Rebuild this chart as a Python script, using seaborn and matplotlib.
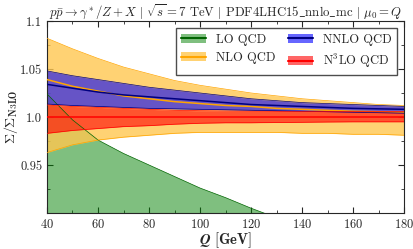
import matplotlib
matplotlib.use("Agg")
import matplotlib.pyplot as plt
from matplotlib.patches import Patch
from matplotlib.lines import Line2D
import numpy as np
import pandas as pd
import seaborn as sns

# ratio to N3LO central
q = [40, 50, 60, 70, 80, 90, 100, 110, 120, 130, 140, 150, 160, 170, 180]

lo_up = [1.024, 0.997, 0.976, 0.962, 0.950, 0.938, 0.926, 0.916, 0.905, 0.895, 0.886, 0.877, 0.868, 0.860, 0.852]
lo_mid = [0.870, 0.860, 0.850, 0.842, 0.835, 0.828, 0.822, 0.817, 0.812, 0.807, 0.803, 0.799, 0.795, 0.791, 0.788]
lo_dn = [0.760, 0.750, 0.740, 0.732, 0.725, 0.718, 0.712, 0.707, 0.702, 0.697, 0.693, 0.689, 0.685, 0.681, 0.678]

nlo_up = [1.082, 1.071, 1.061, 1.052, 1.045, 1.038, 1.033, 1.029, 1.025, 1.022, 1.019, 1.017, 1.015, 1.013, 1.012]
nlo_mid = [1.039, 1.032, 1.027, 1.022, 1.019, 1.016, 1.014, 1.012, 1.011, 1.009, 1.008, 1.007, 1.006, 1.0055, 1.005]
nlo_dn = [0.963, 0.971, 0.976, 0.979, 0.981, 0.983, 0.984, 0.984, 0.984, 0.984, 0.983, 0.983, 0.982, 0.982, 0.981]

nnlo_up = [1.048, 1.043, 1.039, 1.035, 1.031, 1.028, 1.025, 1.022, 1.019, 1.017, 1.015, 1.014, 1.013, 1.012, 1.011]
nnlo_mid = [1.034, 1.030, 1.026, 1.023, 1.021, 1.019, 1.017, 1.015, 1.013, 1.012, 1.011, 1.010, 1.009, 1.0085, 1.008]
nnlo_dn = [1.0135, 1.012, 1.011, 1.010, 1.009, 1.0085, 1.008, 1.0075, 1.007, 1.0065, 1.006, 1.0055, 1.005, 1.0045, 1.004]

n3lo_up = [1.0125, 1.011, 1.010, 1.009, 1.008, 1.007, 1.0065, 1.0062, 1.006, 1.0059, 1.0058, 1.0057, 1.0056, 1.0055, 1.0055]
n3lo_mid = [1.0] * 15
n3lo_dn = [0.983, 0.986, 0.988, 0.990, 0.991, 0.9925, 0.9935, 0.994, 0.994, 0.9943, 0.9945, 0.9948, 0.995, 0.995, 0.995]

sns.set_style("ticks")
plt.rcParams['font.family'] = 'serif'
plt.rcParams['font.serif'] = ['cmr10', 'DejaVu Serif']
plt.rcParams['mathtext.fontset'] = 'cm'
plt.rcParams['axes.formatter.use_mathtext'] = True

fig = plt.figure(figsize=(4.14, 2.49), dpi=100)
ax = fig.add_axes([0.1135, 0.1446, 0.8625, 0.7711])

# name, lower, central, upper, fill colour, line colour, alpha
orders = [
    ("LO QCD", lo_dn, lo_mid, lo_up, "green", "darkgreen", 0.5),
    ("NLO QCD", nlo_dn, nlo_mid, nlo_up, "#ffc750", "orange", 0.8),
    ("NNLO QCD", nnlo_dn, nnlo_mid, nnlo_up, "blue", "navy", 0.6),
    (r"N$^3$LO QCD", n3lo_dn, n3lo_mid, n3lo_up, "red", "red", 0.6),
]

handles = []
for name, dn, mid, up, fc, lc, a in orders:
    ax.fill_between(q, dn, up, color=fc, alpha=a, lw=0, zorder=2)
    df = pd.DataFrame({"Q": q, "dn": dn, "mid": mid, "up": up})
    sns.lineplot(data=df, x="Q", y="mid", color=lc, lw=1.1, ax=ax, zorder=3)
    sns.lineplot(data=df, x="Q", y="up", color=lc, lw=0.5, ax=ax, zorder=3)
    sns.lineplot(data=df, x="Q", y="dn", color=lc, lw=0.5, ax=ax, zorder=3)
    handles.append((Patch(facecolor=fc, alpha=a, lw=0), Line2D([], [], color=lc, lw=1.5)))

ax.set_xlim(40, 180)
ax.set_ylim(0.9, 1.1)
ax.set_xticks([40, 60, 80, 100, 120, 140, 160, 180])
ax.set_xticks(np.arange(40, 181, 10), minor=True)
ax.set_yticks([0.95, 1.0, 1.05, 1.1])
ax.set_yticklabels(["0.95", "1.0", "1.05", "1.1"])
ax.set_yticks([0.925, 0.975, 1.025, 1.075], minor=True)
ax.tick_params(which="both", direction="in", top=True, right=True, labelsize=9)
ax.tick_params(which="major", length=4)
ax.tick_params(which="minor", length=2.5)

ax.set_xlabel(r"$\mathbfit{Q}$ $\mathbf{[GeV]}$", fontsize=10.5, labelpad=0)
ax.set_ylabel(r"$\mathbf{\Sigma/\Sigma_{N3LO}}$", fontsize=10, labelpad=0)
ax.set_title(r"$p\bar{p}\to\gamma^*/Z+X\ |\ \sqrt{s}=7$ TeV $|$ PDF4LHC15$\_$nnlo$\_$mc $|\ \mu_0=Q$",
             fontsize=9.2, pad=4)

ax.legend(handles, [o[0] for o in orders], ncol=2, loc="upper right",
          fontsize=9, fancybox=False, edgecolor="0.3", framealpha=1,
          handlelength=2.0, columnspacing=1.0, borderaxespad=0.6)

fig.savefig("out.png", dpi=100)
